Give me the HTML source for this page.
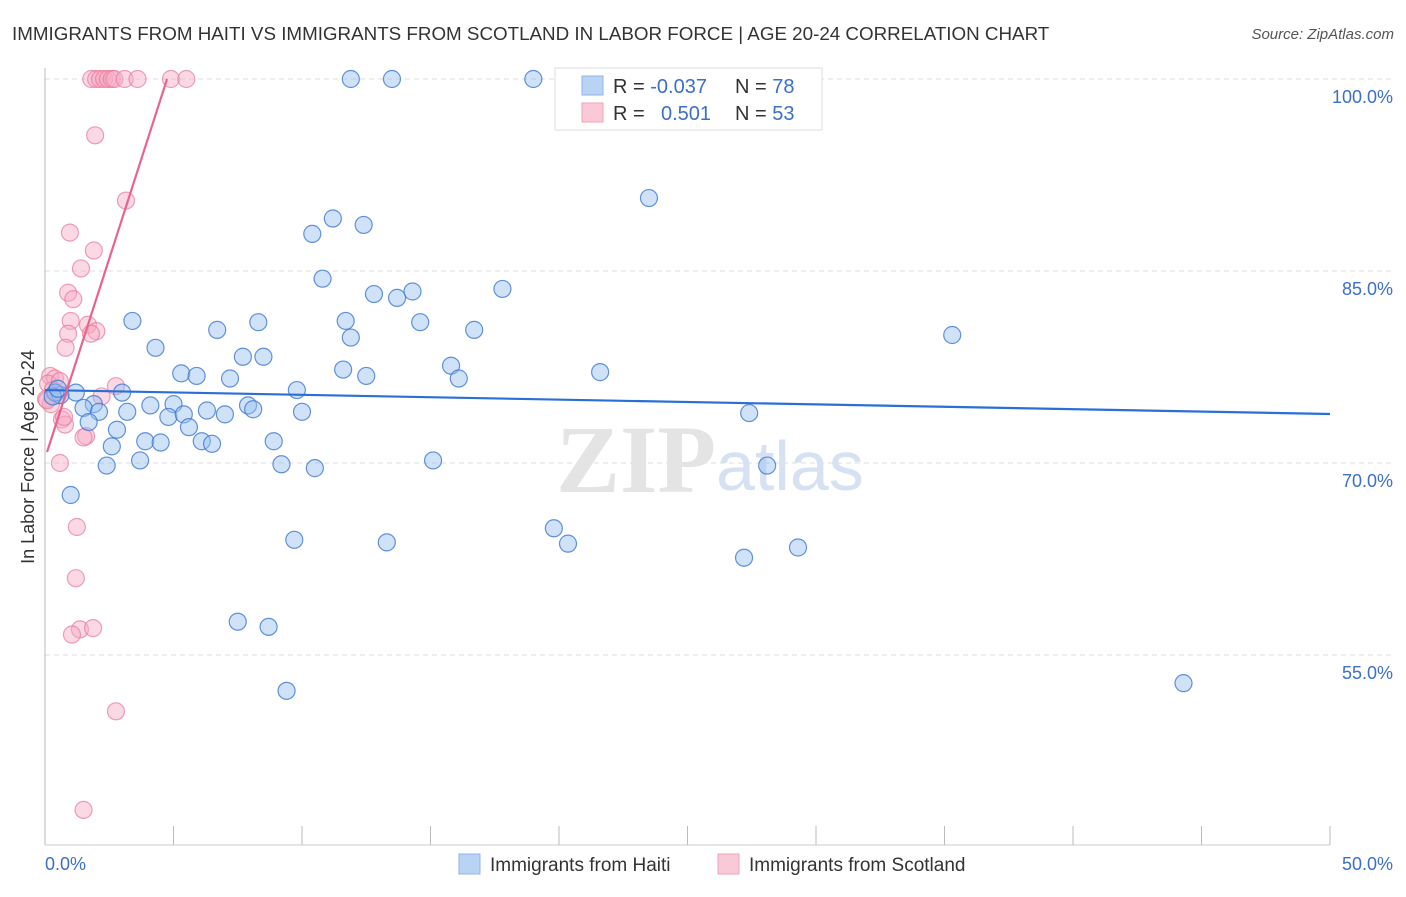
<!DOCTYPE html>
<html><head><meta charset="utf-8"><style>
body{margin:0;background:#fff;font-family:"Liberation Sans",sans-serif}
</style></head><body>
<svg width="1406" height="892" xmlns="http://www.w3.org/2000/svg" font-family="Liberation Sans, sans-serif">
<text x="12" y="40" font-size="18.8" fill="#333">IMMIGRANTS FROM HAITI VS IMMIGRANTS FROM SCOTLAND IN LABOR FORCE | AGE 20-24 CORRELATION CHART</text>
<text x="1394" y="39" font-size="15" fill="#555" font-style="italic" text-anchor="end">Source: ZipAtlas.com</text>
<g id="grid"></g>
<text x="716" y="492" font-size="96" fill="#e4e4e4" text-anchor="end" font-family="Liberation Serif, serif" font-weight="bold">ZIP</text>
<text x="716" y="490" font-size="70" fill="#d6e2f3">atlas</text>
<line x1="45" y1="68" x2="45" y2="845" stroke="#bbb"/>
<line x1="45" y1="845" x2="1330" y2="845" stroke="#ccc"/>
<g id="pts"></g>
<g id="trend"></g>
<text x="34" y="457" font-size="18" fill="#333" text-anchor="middle" transform="rotate(-90 34 457)">In Labor Force | Age 20-24</text>
<text x="45" y="870" font-size="18" fill="#3b6fc9">0.0%</text>
<text x="1393" y="870" font-size="18" fill="#3b6fc9" text-anchor="end">50.0%</text>
<g>
<rect x="555" y="68" width="267" height="62" fill="#fff" stroke="#ddd"/>
<rect x="582" y="76" width="21" height="19" fill="#b9d3f5" stroke="#8fb3e8"/>
<rect x="582" y="103" width="21" height="19" fill="#f9c9d7" stroke="#efa2b8"/>
<text x="613" y="93" font-size="20" fill="#333">R = <tspan fill="#3b6fc9">-0.037</tspan></text>
<text x="735" y="93" font-size="20" fill="#333">N = <tspan fill="#3b6fc9">78</tspan></text>
<text x="613" y="120" font-size="20" fill="#333">R = <tspan fill="#3b6fc9" x="661">0.501</tspan></text>
<text x="735" y="120" font-size="20" fill="#333">N = <tspan fill="#3b6fc9">53</tspan></text>
</g>
<g><rect x="459" y="854" width="21" height="20" fill="#b9d3f5" stroke="#8fb3e8"/><text x="490" y="871" font-size="19" fill="#333">Immigrants from Haiti</text></g>
<g><rect x="718" y="854" width="21" height="20" fill="#f9c9d7" stroke="#efa2b8"/><text x="749" y="871" font-size="19" fill="#333">Immigrants from Scotland</text></g>
</svg>
<script>
const yTicks=[100,85,70,55];
const xTicks=[0,5,10,15,20,25,30,35,40,45,50];
const haitiX=[11.9,13.5,19,23.5,10.4,11.2,12.4,10.8,12.8,13.7,14.3,17.8,3.4,6.7,8.3,11.7,11.9,14.6,16.7,4.3,7.7,8.5,35.3,5.3,5.9,7.2,11.6,12.5,15.8,16.1,21.6,9.8,7.9,10,8.1,1.2,3,4.1,5,1.9,1.5,2.1,3.2,4.8,5.4,6.3,7.0,5.6,2.8,1.7,3.9,4.5,6.1,6.5,2.6,3.7,2.4,8.9,9.2,10.5,15.1,27.4,28.1,1,19.8,20.35,9.7,13.3,27.2,29.3,7.5,8.7,9.4,44.3,0.6,0.4,0.3,0.5];
const haitiY=[100,100,100,90.7,87.9,89.1,88.6,84.4,83.2,82.9,83.4,83.6,81.1,80.4,81,81.1,79.8,81,80.4,79,78.3,78.3,80,77,76.8,76.6,77.3,76.8,77.6,76.6,77.1,75.7,74.5,74,74.2,75.5,75.5,74.5,74.6,74.6,74.3,74,74,73.6,73.8,74.1,73.8,72.8,72.6,73.2,71.7,71.6,71.7,71.5,71.3,70.2,69.8,71.7,69.9,69.6,70.2,73.9,69.8,67.5,64.9,63.7,64,63.8,62.6,63.4,57.6,57.2,52.2,52.8,75.3,75.5,75.2,75.8];
const scotX=[1.8,1.99,2.14,2.3,2.45,2.6,2.7,3.1,3.6,4.9,5.5,1.95,3.15,0.97,1.9,1.4,0.9,1.1,1.0,1.67,2,1.79,0.9,0.8,2.76,2.2,0.2,0.39,0.12,0.31,0.5,0.04,0.58,0.23,0.66,0.78,1.6,1.5,0.58,1.24,1.2,1.36,1.87,1.05,2.76,1.5,0.74,0.08];
const scotY=[100,100,100,100,100,100,100,100,100,100,100,95.6,90.5,88,86.6,85.2,83.3,82.8,81.1,80.8,80.3,80.1,80.1,79,76,75.2,76.8,76.6,76.2,75.7,75.3,75,76.4,74.6,73.4,73,72.1,72,70,65,61,57,57.1,56.6,50.6,42.9,73.6,74.9];
const trendHaiti=[75.7,73.83];
const trendScot=[[0.08,70.86],[4.75,100]];
const X=v=>45+v*25.7, Y=v=>79+(100-v)*12.8;
const NS='http://www.w3.org/2000/svg';
const g=document.getElementById('grid');
yTicks.forEach(t=>{const l=document.createElementNS(NS,'line');l.setAttribute('x1',45);l.setAttribute('x2',1393);l.setAttribute('y1',Y(t));l.setAttribute('y2',Y(t));l.setAttribute('stroke','#ddd');l.setAttribute('stroke-dasharray','5,4');


g.appendChild(l);
const tx=document.createElementNS(NS,'text');tx.setAttribute('x',1393);tx.setAttribute('y',Y(t)+24);tx.setAttribute('text-anchor','end');tx.setAttribute('font-size','18');tx.setAttribute('fill','#3b6fc9');tx.textContent=t.toFixed(1)+'%';


g.appendChild(tx);});
xTicks.forEach(t=>{const l=document.createElementNS(NS,'line');l.setAttribute('x1',X(t));l.setAttribute('x2',X(t));l.setAttribute('y1',826);l.setAttribute('y2',845);l.setAttribute('stroke','#bbb');


g.appendChild(l);});
const p=document.getElementById('pts');
function dots(xs,ys,fill,stroke,name){xs.forEach((x,i)=>{const c=document.createElementNS(NS,'circle');c.setAttribute('cx',X(x));c.setAttribute('cy',Y(ys[i]));c.setAttribute('r',8.5);c.setAttribute('fill',fill);c.setAttribute('stroke',stroke);c.setAttribute('stroke-width',1.2);


p.appendChild(c);});}
dots(scotX,scotY,'rgba(246,170,195,0.45)','rgba(232,120,155,0.7)','scotland-point');
dots(haitiX,haitiY,'rgba(150,190,240,0.45)','rgba(60,120,210,0.8)','haiti-point');
const tr=document.getElementById('trend');
let l1=document.createElementNS(NS,'line');l1.setAttribute('x1',X(0));l1.setAttribute('y1',Y(trendHaiti[0]));l1.setAttribute('x2',X(50));l1.setAttribute('y2',Y(trendHaiti[1]));l1.setAttribute('stroke','#2a6fd6');l1.setAttribute('stroke-width',2.2);


tr.appendChild(l1);
let l2=document.createElementNS(NS,'line');l2.setAttribute('x1',X(trendScot[0][0]));l2.setAttribute('y1',Y(trendScot[0][1]));l2.setAttribute('x2',X(trendScot[1][0]));l2.setAttribute('y2',Y(trendScot[1][1]));l2.setAttribute('stroke','#e8648e');l2.setAttribute('stroke-width',2.2);


tr.appendChild(l2);
</script>
</body></html>
